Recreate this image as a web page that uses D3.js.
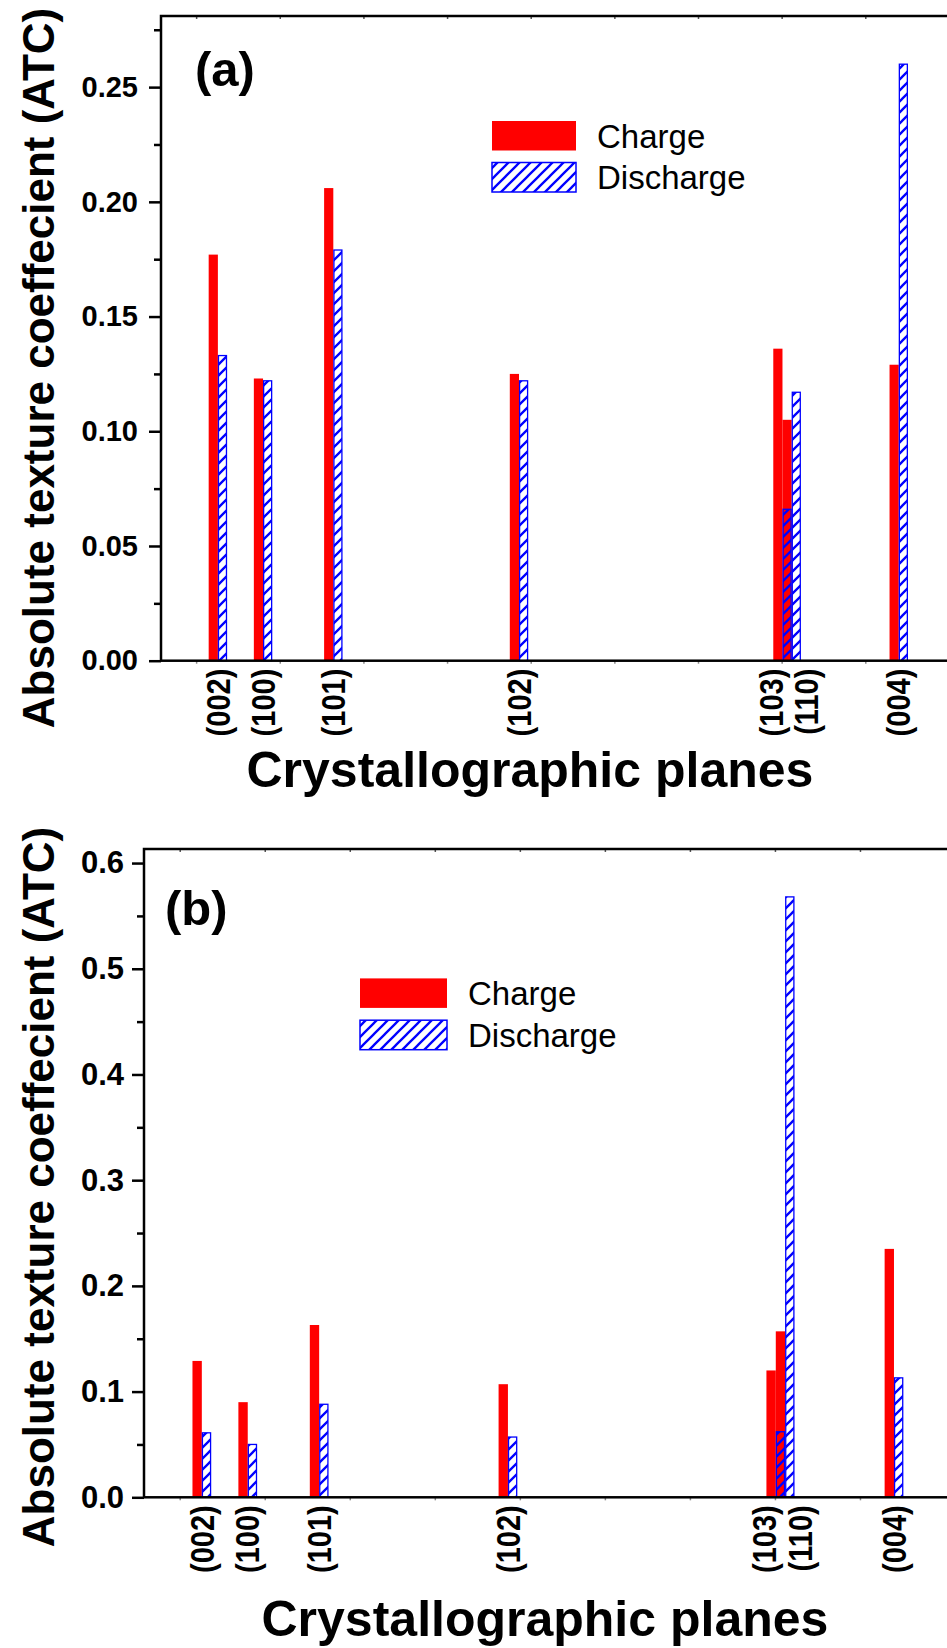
<!DOCTYPE html>
<html>
<head>
<meta charset="utf-8">
<script src="https://cdn.jsdelivr.net/npm/d3@7"></script>
<style>
  body { margin: 0; background: #fff; }
  svg { display: block; font-family: "Liberation Sans", Arial, Helvetica, sans-serif; }
</style>
</head>
<body>
<div id="chart"></div>
<script>
// planes and their 2-theta peak positions (deg)
var planes = ["(002)", "(100)", "(101)", "(102)", "(103)", "(110)", "(004)"];
var twoTheta = [36.3, 39.0, 43.2, 54.3, 70.05, 70.6, 77.0];

// panel (a)
var chargeA = [0.177, 0.123, 0.206, 0.125, 0.136, 0.105, 0.129];
var dischargeA = [0.133, 0.122, 0.179, 0.122, 0.066, 0.117, 0.260];

// panel (b)
var chargeB = [0.129, 0.090, 0.163, 0.107, 0.120, 0.157, 0.235];
var dischargeB = [0.061, 0.050, 0.088, 0.057, 0.062, 0.568, 0.113];

var seriesNames = ["Charge", "Discharge"];

var width = 947, height = 1648;
var barW = 0.55; // deg
var RED = "#ff0000", BLUE = "#0000ff";

var svg = d3.select("#chart").append("svg")
  .attr("width", width)
  .attr("height", height);

// hatch for discharge bars, transparent between the lines
var defs = svg.append("defs");
defs.append("pattern")
  .attr("id", "hatch")
  .attr("patternUnits", "userSpaceOnUse")
  .attr("width", 11)
  .attr("height", 11)
  .append("path")
  .attr("d", "M-1,1 l2,-2 M0,11 l11,-11 M10,12 l2,-2")
  .attr("stroke", BLUE)
  .attr("stroke-width", 2.3);

// nudge for the two crowded labels so they don't overlap
var labelNudge = { "(103)": -11, "(110)": 15 };

function drawPanel(cfg) {
  var x = d3.scaleLinear().domain([32.9, 80.5]).range([cfg.left, cfg.right]);
  var y = d3.scaleLinear().domain([0, cfg.yMax]).range([cfg.bottom, cfg.top]);
  var g = svg.append("g");

  var rows = planes.map(function(p, i) {
    return { plane: p, pos: twoTheta[i], charge: cfg.charge[i], discharge: cfg.discharge[i] };
  });

  // CHARGE bars (drawn first)
  g.selectAll("rect.charge")
    .data(rows)
    .enter().append("rect")
    .attr("class", "charge")
    .attr("x", function(d) { return x(d.pos - barW); })
    .attr("width", function(d) { return x(d.pos) - x(d.pos - barW); })
    .attr("y", function(d) { return y(d.charge); })
    .attr("height", function(d) { return y(0) - y(d.charge); })
    .attr("fill", RED);

  // DISCHARGE bars
  g.selectAll("rect.discharge")
    .data(rows)
    .enter().append("rect")
    .attr("class", "discharge")
    .attr("x", function(d) { return x(d.pos) + 0.6; })
    .attr("width", function(d) { return x(d.pos + barW) - x(d.pos) - 1.2; })
    .attr("y", function(d) { return y(d.discharge); })
    .attr("height", function(d) { return y(0) - y(d.discharge); })
    .attr("fill", "url(#hatch)")
    .attr("stroke", BLUE)
    .attr("stroke-width", 1.3);

  // y axis, major + minor
  var yAxis = g.append("g")
    .attr("transform", "translate(" + cfg.left + ",0)")
    .call(d3.axisLeft(y).tickValues(cfg.majors).tickSize(12).tickPadding(cfg.pad).tickFormat(d3.format(cfg.fmt)));
  yAxis.select(".domain").remove();
  yAxis.selectAll("line").attr("stroke-width", 2.5);
  yAxis.selectAll("text")
    .attr("font-size", cfg.tickFont)
    .attr("font-weight", "bold")
    .attr("fill", "#000")
    .attr("font-family", "Liberation Sans, Arial, sans-serif");

  var yMinor = g.append("g")
    .attr("transform", "translate(" + cfg.left + ",0)")
    .call(d3.axisLeft(y).tickValues(cfg.minors).tickSize(7).tickFormat(""));
  yMinor.select(".domain").remove();
  yMinor.selectAll("line").attr("stroke-width", 2.5);

  // tiny x ticks every 5 deg, top and bottom
  var xt = d3.range(35, 80, 5);
  var xb = g.append("g")
    .attr("transform", "translate(0," + cfg.bottom + ")")
    .call(d3.axisBottom(x).tickValues(xt).tickSize(3).tickFormat(""));
  xb.select(".domain").remove();
  xb.selectAll("line").attr("stroke", "#888").attr("stroke-width", 1.5);
  var xtop = g.append("g")
    .attr("transform", "translate(0," + cfg.top + ")")
    .call(d3.axisTop(x).tickValues(xt).tickSize(-3).tickFormat(""));
  xtop.select(".domain").remove();
  xtop.selectAll("line").attr("stroke", "#555").attr("stroke-width", 1.5);

  // frame
  g.append("rect")
    .attr("x", cfg.left)
    .attr("y", cfg.top)
    .attr("width", cfg.right - cfg.left)
    .attr("height", cfg.bottom - cfg.top)
    .attr("fill", "none")
    .attr("stroke", "#000")
    .attr("stroke-width", 2.5);

  // plane labels under the axis
  g.selectAll("text.plane")
    .data(rows)
    .enter().append("text")
    .attr("class", "plane")
    .attr("transform", function(d) {
      var px = x(d.pos) + (labelNudge[d.plane] || 0);
      return "translate(" + px + "," + (cfg.bottom + 8) + ") rotate(-90) scale(1,1.15)";
    })
    .attr("text-anchor", "end")
    .attr("dy", "0.35em")
    .attr("font-size", 29)
    .attr("font-weight", "bold")
    .text(function(d) { return d.plane; });

  // axis titles
  g.append("text")
    .attr("x", cfg.xTitleX)
    .attr("y", cfg.xTitleY)
    .attr("font-size", 50)
    .attr("font-weight", "bold")
    .text("Crystallographic planes");

  g.append("text")
    .attr("transform", "translate(54," + cfg.yTitleY + ") rotate(-90)")
    .attr("text-anchor", "middle")
    .attr("font-size", 44)
    .attr("font-weight", "bold")
    .text("Absolute texture coeffecient (ATC)");

  // panel tag
  g.append("text")
    .attr("x", cfg.tagX)
    .attr("y", cfg.tagY)
    .attr("font-size", 49)
    .attr("font-weight", "bold")
    .text(cfg.tag);

  // LEGEND
  var lg = g.append("g");
  seriesNames.forEach(function(name, i) {
    var ly = cfg.legY + i * cfg.legStep;
    lg.append("rect")
      .attr("x", cfg.legX)
      .attr("y", ly)
      .attr("width", cfg.legW)
      .attr("height", 29.5)
      .attr("fill", i === 0 ? RED : "url(#hatch)")
      .attr("stroke", i === 0 ? "none" : BLUE)
      .attr("stroke-width", 1.5);
    lg.append("text")
      .attr("x", cfg.legX + cfg.legW + 21)
      .attr("y", ly + 26.5)
      .attr("font-size", 33)
      .text(name);
  });
}

drawPanel({
  charge: chargeA, discharge: dischargeA,
  left: 161, right: 957.3, top: 16, bottom: 660.7, yMax: 0.281,
  majors: d3.range(0, 0.2501, 0.05), minors: d3.range(0.025, 0.28, 0.05),
  fmt: ".2f", tickFont: 29, pad: 11,
  xTitleX: 246.5, xTitleY: 786.5, yTitleY: 368,
  tag: "(a)", tagX: 195, tagY: 86,
  legX: 492, legY: 121, legStep: 41.5, legW: 84
});

drawPanel({
  charge: chargeB, discharge: dischargeB,
  left: 144, right: 953.5, top: 849, bottom: 1497.3, yMax: 0.6133,
  majors: d3.range(0, 0.601, 0.1), minors: d3.range(0.05, 0.6, 0.1),
  fmt: ".1f", tickFont: 31, pad: 8,
  xTitleX: 261.5, xTitleY: 1635.5, yTitleY: 1187,
  tag: "(b)", tagX: 165, tagY: 925,
  legX: 360, legY: 978.4, legStep: 41.8, legW: 87
});
</script>
</body>
</html>
